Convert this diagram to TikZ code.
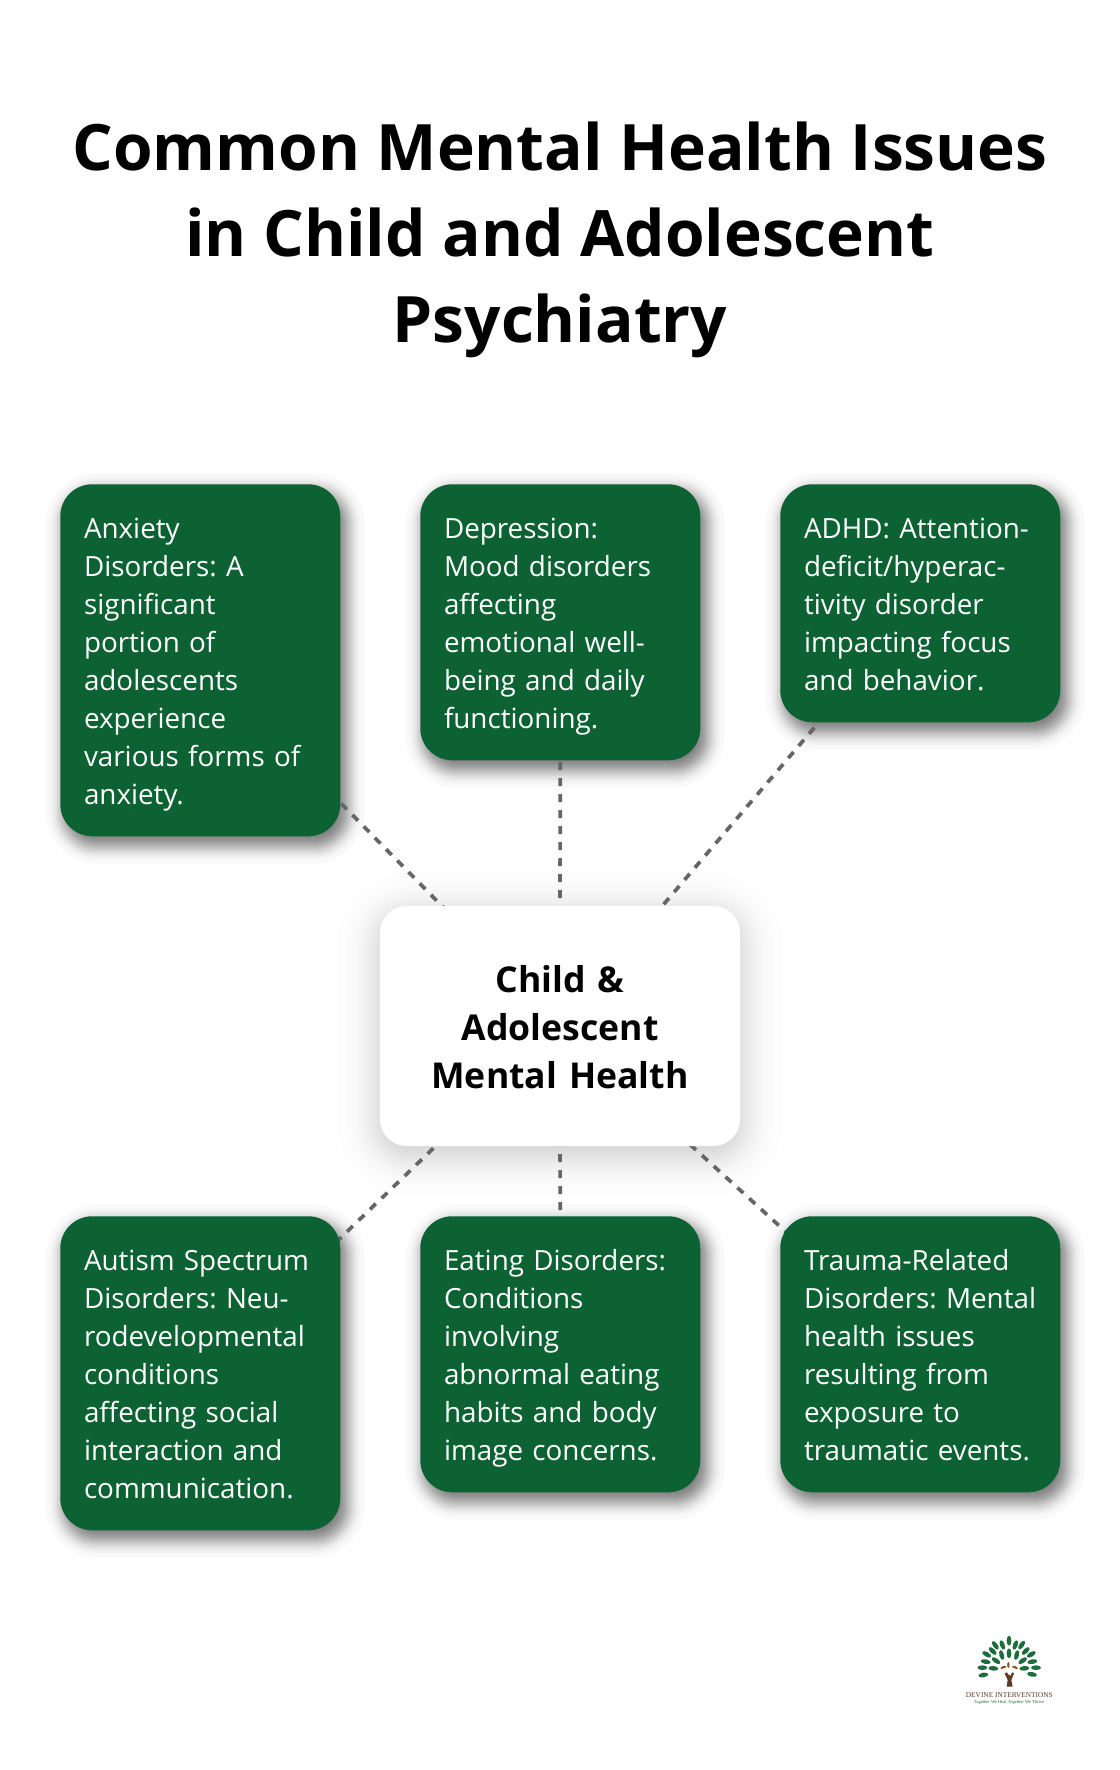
\documentclass[tikz,border=0pt]{standalone}
\usepackage{fontspec}
\setmainfont{Open Sans}
\newfontfamily\bodyfont[WordSpace=0.9]{Open Sans}
\newfontfamily\logofont{Liberation Serif}
\definecolor{boxgreen}{HTML}{0D6233}
\definecolor{linegray}{HTML}{666666}
\definecolor{trunk}{HTML}{5A3A26}
\definecolor{leaf}{HTML}{1E6B3C}
\pgfdeclarelayer{shadowlayer}
\pgfdeclarelayer{linelayer}
\pgfsetlayers{shadowlayer,linelayer,main}
\newcommand{\softshadow}[5]{% node, dx, dy, sigma, opacity (px)
  \begin{pgfonlayer}{shadowlayer}
  \foreach \q in {-2.13,-1.645,-1.38,-1.19,-1.036,-0.903,-0.784,-0.674,-0.573,-0.476,-0.385,-0.3,-0.21,-0.126,-0.04,0.04,0.126,0.21,0.3,0.385,0.476,0.573,0.674,0.784,0.903,1.036,1.19,1.38,1.645,2.13}{
    \pgfmathsetmacro{\sp}{\q*#4*0.75}
    \pgfmathsetmacro{\rc}{max(4,24+\sp)}
    \path[fill=black,fill opacity=#5,rounded corners=\rc pt]
      ([xshift=#2*0.75pt-\sp pt,yshift=-#3*0.75pt-\sp pt]#1.south west) rectangle
      ([xshift=#2*0.75pt+\sp pt,yshift=-#3*0.75pt+\sp pt]#1.north east);
  }
  \end{pgfonlayer}}
\tikzset{
  greenbox/.style={anchor=north west,fill=boxgreen,text=white,rounded corners=24pt,
    minimum width=210pt,text width=174.4pt,inner xsep=17.8pt,inner ysep=0pt,align=left,
    font=\bodyfont\fontsize{20.85}{28.5}\selectfont\frenchspacing,
    execute at begin node={\rule{0pt}{22.5pt}},
    execute at end node={\rule[-6pt]{0pt}{6pt}}},
  hubbox/.style={anchor=center,fill=white,rounded corners=20pt,minimum width=270pt,
    text width=270pt,minimum height=180pt,inner sep=0pt,align=center,text=black,
    font=\fontsize{26.7}{36}\selectfont\bfseries,
    execute at begin node={\rule{0pt}{28.5pt}},
    execute at end node={\rule[-7.5pt]{0pt}{7.5pt}}},
  titletext/.style={anchor=center,align=center,inner sep=0pt,text=black,
    font=\fontsize{48}{64.5}\selectfont\bfseries},
  link/.style={draw=linegray,line width=2.8pt,dash pattern=on 6pt off 6pt},
  leafshape/.style={fill=leaf,draw=none},
}
\begin{document}
\begin{tikzpicture}[x=0.75pt,y=-0.75pt]
\useasboundingbox (0,0) rectangle (1120,1770);
\begin{pgfonlayer}{shadowlayer}
\fill[white] (0,0) rectangle (1120,1770);
\end{pgfonlayer}

\node[titletext] (title) at (560,240) {Common Mental Health Issues\\in Child and Adolescent\\Psychiatry};

\node[hubbox] (hub) at (560,1026) {Child \&\\Adolescent\\Mental Health};

\node[greenbox,minimum height=264pt] (anx) at (60,484) {Anxiety\\Disorders: A\\significant\\portion of\\adolescents\\experience\\various forms of\\anxiety.};
\node[greenbox,minimum height=207pt] (dep) at (420,484) {Depression:\\Mood disorders\\affecting\\emotional well-\\being and daily\\functioning.};
\node[greenbox,minimum height=178.5pt] (adhd) at (780,484) {ADHD: Attention-\\deficit/hyperac-\\tivity disorder\\impacting focus\\and behavior.};
\node[greenbox,minimum height=235.5pt] (aut) at (60,1216) {Autism Spectrum\\Disorders: Neu-\\rodevelopmental\\conditions\\affecting social\\interaction and\\communication.};
\node[greenbox,minimum height=207pt] (eat) at (420,1216) {Eating Disorders:\\Conditions\\involving\\abnormal eating\\habits and body\\image concerns.};
\node[greenbox,minimum height=207pt] (trauma) at (780,1216) {Trauma-Related\\Disorders: Mental\\health issues\\resulting from\\exposure to\\traumatic events.};

\foreach \n in {anx,dep,adhd,aut,eat,trauma}{\softshadow{\n}{5}{8}{9}{0.022}}
\softshadow{hub}{0}{8}{20}{0.008}

\begin{pgfonlayer}{linelayer}
\foreach \n in {anx,dep,adhd,aut,eat,trauma}{\draw[link] (hub.center) -- (\n.center);}
\end{pgfonlayer}

% logo
\begin{scope}[shift={(940,1620)},x=0.25pt,y=-0.25pt]
\foreach \lx/\ly/\la in {207/62/90,187/75/110,166/76/125,226/75/70,245/75/55,158/93/135,257/93/45,
  140/103/150,274/103/30,137/125/170,277/125/10,127/143/180,288/143/0,130/165/190,276/163/-10,
  185/105/105,207/100/90,230/105/75,168/122/145,248/122/35,160/145/175,253/145/5}{
  \fill[leafshape,rotate around={\la:(\lx,\ly)}] (\lx,\ly) ellipse [x radius=15,y radius=7];
}
\fill[trunk] (200,200) -- (218,200) -- (214,180) -- (222,160) -- (217,157) -- (209,172) -- (201,157) -- (194,160) -- (203,180) -- cycle;
\fill[trunk] (207,168) circle (5);
\foreach \tx/\ty/\ta in {190/142/20,225/142/-20,205/135/90}{
  \fill[trunk!70!orange,rotate around={\ta:(\tx,\ty)}] (\tx,\ty) ellipse [x radius=9,y radius=3.5];
}
\node[inner sep=0pt,text=trunk,font=\logofont\fontsize{5.5}{6}\selectfont] (logoname) at (208,224) {DEVINE INTERVENTIONS};
\node[inner sep=0pt,text=leaf,font=\logofont\fontsize{3.4}{4}\selectfont] (logotag) at (207,246) {Together We Heal Together We Thrive};
\end{scope}
\end{tikzpicture}
\end{document}
